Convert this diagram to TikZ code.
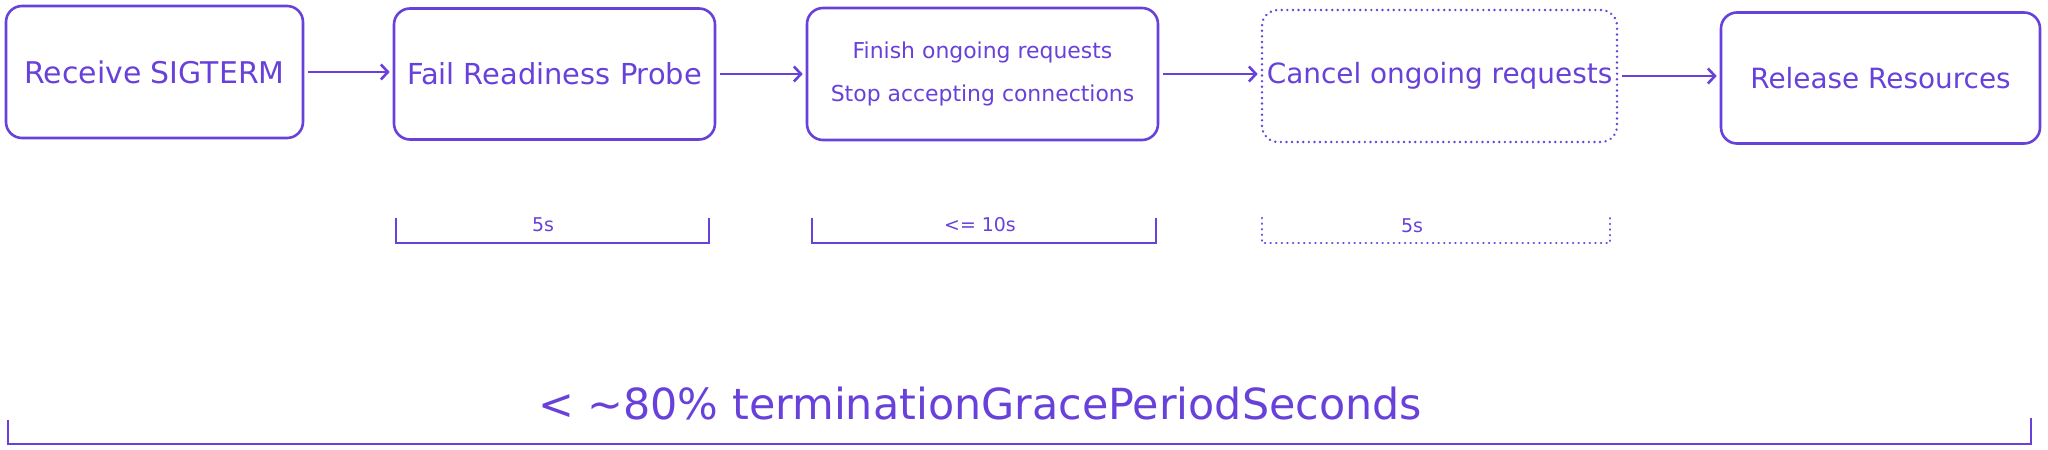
\documentclass[tikz,border=0pt]{standalone}
\usepackage{fontspec}
\setmainfont{DejaVu Sans}
\usetikzlibrary{arrows.meta}
\definecolor{ink}{HTML}{6741D9}
\begin{document}
\begin{tikzpicture}[x=1bp,y=-1bp,
  box/.style={draw=ink, line width=2.6bp, rounded corners=16bp, inner sep=0pt,
    text=ink, align=center, font=\fontsize{28}{34}\selectfont},
  dotbox/.style={box, dash pattern=on 0.1bp off 5.5bp, line cap=round},
  arr/.style={draw=ink, line width=2.6bp, -{Straight Barb[length=7bp,width=15bp]},
    shorten <=4bp, shorten >=3bp},
  brack/.style={draw=ink, line width=2.6bp},
  dotbrack/.style={brack, dash pattern=on 0.1bp off 5.5bp, line cap=round},
  lab/.style={text=ink, font=\fontsize{19}{22}\selectfont, inner sep=0pt}]
\useasboundingbox (0,0) rectangle (2048,450);

\node[box, minimum width=297bp, minimum height=132bp,
  font=\fontsize{30}{36}\selectfont] (b1) at (154.5,72) {Receive SIGTERM};
\node[box, minimum width=321bp, minimum height=131bp,
  font=\fontsize{29}{35}\selectfont] (b2) at (554.5,74) {Fail Readiness Probe};
\node[box, minimum width=351bp, minimum height=132bp,
  font=\fontsize{22}{43}\selectfont] (b3) at (982.5,74) {Finish ongoing requests\\Stop accepting connections};
\node[dotbox, minimum width=355bp, minimum height=132bp] (b4) at (1439.5,76) {Cancel ongoing requests};
\node[box, minimum width=319bp, minimum height=131bp] (b5) at (1880.5,78) {Release Resources};

\draw[arr] (b1.east) -- (b2.west |- b1.east);
\draw[arr] (b2.east) -- (b3.west |- b2.east);
\draw[arr] (b3.east) -- (b4.west |- b3.east);
\draw[arr] (b4.east) -- (b5.west |- b4.east);

% brackets
\draw[brack] (396,218) -- (396,243) -- (709,243) -- (709,218);
\node[lab] (l1) at (543,225) {5s};
\draw[brack] (812,218) -- (812,243) -- (1156,243) -- (1156,218);
\node[lab] (l2) at (980,225) {<= 10s};
\draw[dotbrack] (1262,218) -- (1262,243) -- (1610,243) -- (1610,218);
\node[lab] (l3) at (1412,226) {5s};

\draw[brack] (8,420) -- (8,444) -- (2031,444) -- (2031,418);
\node[text=ink, font=\fontsize{43}{50}\selectfont, inner sep=0pt] (tot) at (980,404) {< \textasciitilde 80\% terminationGracePeriodSeconds};
\end{tikzpicture}
\end{document}
